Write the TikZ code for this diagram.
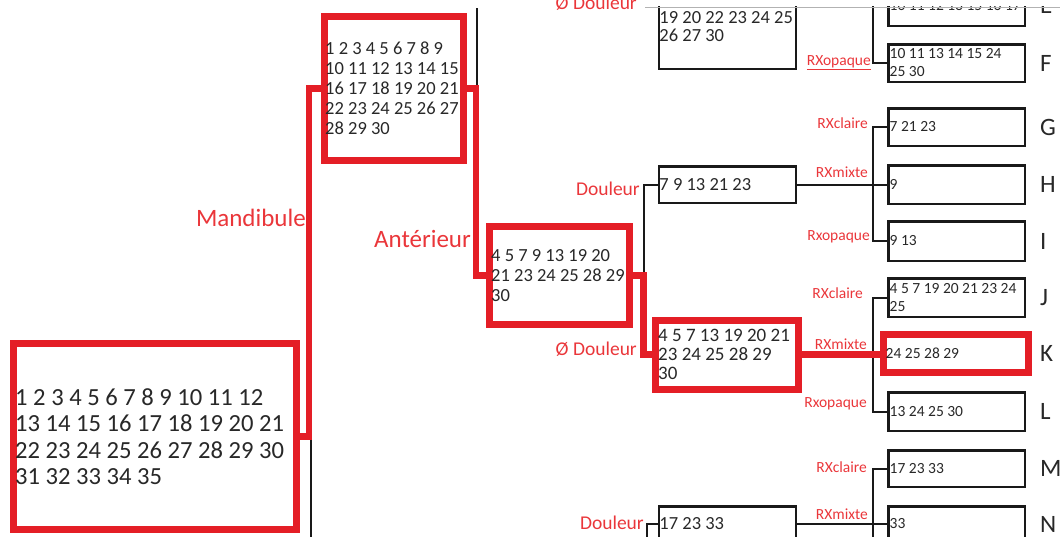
\documentclass[tikz,border=0pt]{standalone}
\usepackage{fontspec}
\setmainfont{Carlito}
\usetikzlibrary{positioning}
\definecolor{boxred}{RGB}{228,30,38}
\definecolor{lblred}{RGB}{234,54,58}
\definecolor{ink}{RGB}{40,40,40}
\definecolor{wire}{RGB}{25,25,25}

\begin{document}
\begin{tikzpicture}[x=1pt, y=-1pt, line join=miter,
    redbox/.style={draw=boxred, line width=7pt, inner sep=0pt},
    blkbox/.style={draw=wire, line width=2.5pt, inner sep=0pt},
    midbox/.style={blkbox, minimum width=137pt},
    leafbox/.style={blkbox, minimum width=136.5pt},
    rconn/.style={draw=boxred, line width=6.5pt},
    conn/.style={draw=wire, line width=2pt},
    nums/.style={anchor=west, align=left, text=ink, inner ysep=0pt},
    bignums/.style={nums, font=\fontsize{24.6}{26.5}\selectfont},
    midnums/.style={nums, font=\fontsize{18.5}{20}\selectfont},
    leafnums/.style={nums, inner xsep=2.5pt, font=\fontsize{15.5}{18}\selectfont},
    biglbl/.style={anchor=base east, inner sep=0pt, text=lblred, font=\fontsize{25}{25}\selectfont},
    midlbl/.style={anchor=base east, inner sep=0pt, text=lblred, font=\fontsize{19.5}{20}\selectfont},
    rxlbl/.style={anchor=base east, inner sep=0pt, text=lblred, font=\fontsize{15.5}{16}\selectfont},
    rowlbl/.style={inner sep=0pt, text=ink, font=\fontsize{25}{25}\selectfont},
    node distance=14pt]

\useasboundingbox (0,0) rectangle (1060,536);
\clip (0,0) rectangle (1060,536);

% highlighted path
\node[redbox, minimum width=283pt, minimum height=186pt] (root)   at (155,436.5) {};
\node[redbox, minimum width=139pt, minimum height=144pt] (mand)   at (394,88.5)  {};
\node[redbox, minimum width=140pt, minimum height=98pt]  (anter)  at (559.5,275.5) {};
\node[redbox, minimum width=143pt, minimum height=69pt]  (nodoul) at (727,354.5) {};
\node[redbox, minimum width=145pt, minimum height=38pt]  (K)      at (956,353.5) {};

\node[bignums, inner xsep=5pt] (troot) at (root.west)
    {1 2 3 4 5 6 7 8 9 10 11 12\\13 14 15 16 17 18 19 20 21\\22 23 24 25 26 27 28 29 30\\31 32 33 34 35};
\node[midnums, inner xsep=4pt] (tmand) at (mand.west)
    {1 2 3 4 5 6 7 8 9\\10 11 12 13 14 15\\16 17 18 19 20 21\\22 23 24 25 26 27\\28 29 30};
\node[midnums, inner xsep=5pt] (tanter) at (anter.west)
    {4 5 7 9 13 19 20\\21 23 24 25 28 29\\30};
\node[midnums, inner xsep=6pt, font=\fontsize{19}{19.3}\selectfont] (tnodoul) at (nodoul.west)
    {4 5 7 13 19 20 21\\23 24 25 28 29\\30};
\node[leafnums, inner xsep=5.5pt] (tK) at (K.west) {24 25 28 29};

% middle boxes
\node[midbox, minimum height=84.5pt] (topmid) at (727.5,26.5)  {};
\node[midbox, minimum height=36.5pt] (doul)   at (727.5,184.5) {};
\node[midbox, minimum height=35.5pt] (doul2)  at (727.5,524)   {};
\node[midnums, inner xsep=1.5pt, font=\fontsize{18.5}{17.5}\selectfont] (ttopmid) at (topmid.west)
    {19 20 22 23 24 25\\26 27 30};
\node[midnums, inner xsep=1.5pt] (tdoul)  at (doul.west)  {7 9 13 21 23};
\node[midnums, inner xsep=1.5pt] (tdoul2) at (doul2.west) {17 23 33};

% leaves
\node[leafbox, minimum height=41.5pt] (E) at (956.5,5)     {};
\node[leafbox, minimum height=37.5pt] (F) at (956.5,63)    {};
\node[leafbox, minimum height=37.5pt] (G) at (956.5,127)   {};
\node[leafbox, minimum height=38.5pt] (H) at (956.5,184.5) {};
\node[leafbox, minimum height=39.5pt] (I) at (956.5,241)   {};
\node[leafbox, minimum height=38.5pt] (J) at (956.5,297.5) {};
\node[leafbox, minimum height=38.5pt] (L) at (956.5,411.5) {};
\node[leafbox, minimum height=36.5pt] (M) at (956.5,468.5) {};
\node[leafbox, minimum height=35.5pt] (N) at (956.5,524)   {};

\node[leafnums] (tE) at (E.west) {10 11 12 13 15 16 17};
\node[leafnums] (tF) at (F.west) {10 11 13 14 15 24\\25 30};
\node[leafnums] (tG) at (G.west) {7 21 23};
\node[leafnums] (tH) at (H.west) {9};
\node[leafnums] (tI) at (I.west) {9 13};
\node[leafnums] (tJ) at (J.west) {4 5 7 19 20 21 23 24\\25};
\node[leafnums] (tL) at (L.west) {13 24 25 30};
\node[leafnums] (tM) at (M.west) {17 23 33};
\node[leafnums] (tN) at (N.west) {33};

% row letters
\foreach \leaf in {E,F,G,H,I,J,L,M,N}
    \node[rowlbl, right=of \leaf] (r\leaf) {\leaf};
\node[rowlbl, right=8pt of K] (rK) {K};

% connectors, black first
\coordinate (axR) at (873,0);
\draw[conn] (root.east) ++(11,0) -- ++(0,100);
\draw[conn] (mand.east) ++(10,0) -- ++(0,-81);
\draw[conn] (anter.east) ++(10.5,0) |- (doul.west);
\draw[conn] (F.west) -| (axR);
\draw[conn] (doul.east) -- (doul.east -| H.west);
\draw[conn] (G.west) -| (doul.east -| axR) |- (I.west);
\draw[conn] (J.west) -| (nodoul.east -| axR) |- (L.west);
\draw[conn] (doul2.east) -- (doul2.east -| N.west);
\draw[conn] (M.west) -| (doul2.east -| axR) -- ++(0,20);
\draw[conn] (doul2.west) -- ++(-11,0) -- ++(0,20);

% connectors, red path
\draw[rconn] (root.east) -- ++(9,0) |- (mand.west);
\draw[rconn] (mand.east) -- ++(9,0) |- (anter.west);
\draw[rconn] (anter.east) -- ++(10.5,0) |- (nodoul.west);
\draw[rconn] (nodoul.east) -- (nodoul.east -| K.west);

% branch labels
\node[biglbl] (lmand)  at (306,226) {Mandibule};
\node[biglbl] (lanter) at (471,247) {Antérieur};
\node[midlbl] (ltop)   at (637,9)   {Ø Douleur};
\node[midlbl] (ldoul)  at (640,195) {Douleur};
\node[midlbl] (lnod)   at (637,355) {Ø Douleur};
\node[midlbl] (ldoul2) at (644,529) {Douleur};
\node[rxlbl] (lF) at (871,65)  {\underline{RXopaque}};
\node[rxlbl] (lG) at (868,128) {RXclaire};
\node[rxlbl] (lH) at (868,177) {RXmixte};
\node[rxlbl] (lI) at (870,240) {Rxopaque};
\node[rxlbl] (lJ) at (863,298) {RXclaire};
\node[rxlbl] (lK) at (867,349) {RXmixte};
\node[rxlbl] (lL) at (867,407) {Rxopaque};
\node[rxlbl] (lM) at (867,472) {RXclaire};
\node[rxlbl] (lN) at (868,519) {RXmixte};

% cut edge at the top
\fill[white] (645,-5) rectangle (1060,6);
\draw[gray!60, line width=1pt] (645,7) -- (1060,7);

\end{tikzpicture}
\end{document}
